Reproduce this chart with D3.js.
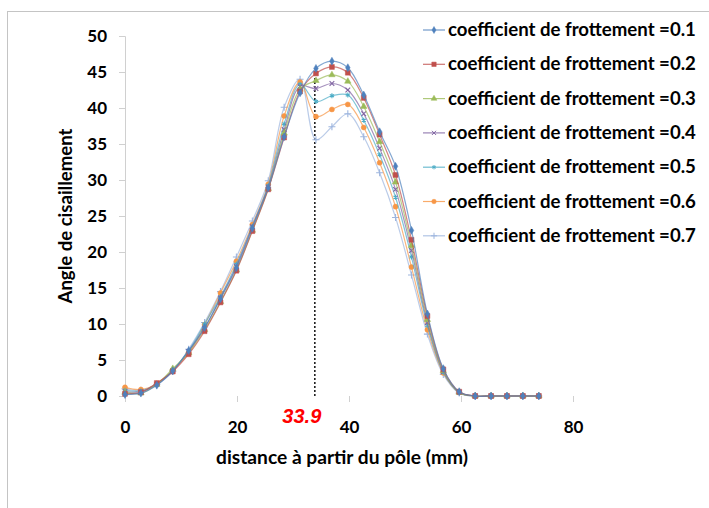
<!DOCTYPE html>
<html><head><meta charset="utf-8">
<script src="https://cdn.jsdelivr.net/npm/d3@7"></script>
<style>body{margin:0;background:#fff}text{font-family:Lato,"Liberation Sans",sans-serif;font-weight:bold}</style>
</head><body>
<svg id="c" width="709" height="508"></svg>
<script>
const distances = [0, 2.84, 5.68, 8.53, 11.37, 14.21, 17.05, 19.89, 22.74, 25.58, 28.42, 31.26, 34.1, 36.95, 39.79, 42.63, 45.47, 48.31, 51.16, 54.0, 56.84, 59.68, 62.53, 65.37, 68.21, 71.05, 73.9];
const seriesNames = ["coefficient de frottement =0.1","coefficient de frottement =0.2","coefficient de frottement =0.3","coefficient de frottement =0.4","coefficient de frottement =0.5","coefficient de frottement =0.6","coefficient de frottement =0.7"];
const mu01 = [0.2,0.4,1.5,3.5,6.3,9.5,13.5,17.8,23.3,28.9,36.0,42.1,45.5,46.5,45.6,41.8,36.7,31.9,23.0,11.4,3.8,0.6,0,0,0,0,0];
const mu02 = [0.3,0.5,1.8,3.4,5.8,9.0,13.0,17.4,22.9,28.7,35.9,42.3,44.8,45.7,44.9,41.4,36.3,30.7,21.7,11.1,3.7,0.6,0,0,0,0,0];
const mu03 = [0.5,0.4,1.6,3.8,6.0,9.2,13.1,17.5,23.0,28.8,36.5,42.6,43.8,44.6,43.7,40.2,35.3,29.7,20.9,10.6,3.5,0.5,0,0,0,0,0];
const mu04 = [0.6,0.6,1.6,3.5,6.2,9.4,13.6,18.0,23.5,29.0,37.0,43.0,42.7,43.4,42.5,39.2,34.4,28.7,20.2,10.2,3.4,0.5,0,0,0,0,0];
const mu05 = [0.8,0.7,1.7,3.6,6.3,10.0,13.8,18.3,23.6,29.2,37.8,43.3,40.9,41.7,41.8,38.3,33.5,27.6,19.3,9.8,3.3,0.5,0,0,0,0,0];
const mu06 = [1.2,0.9,1.7,3.6,6.0,9.9,14.3,18.7,23.8,29.4,38.9,43.6,38.8,39.8,40.5,37.3,32.4,26.3,17.9,9.2,3.2,0.5,0,0,0,0,0];
const mu07 = [1.0,0.8,1.6,3.4,6.5,10.2,14.5,19.3,24.3,29.9,40.1,44.0,35.6,37.4,39.2,36.0,31.0,24.8,16.8,8.6,3.0,0.4,0,0,0,0,0];
const seriesValues = [mu01, mu02, mu03, mu04, mu05, mu06, mu07];
const xTicks = [0, 20, 40, 60, 80];
const yTicks = [0, 5, 10, 15, 20, 25, 30, 35, 40, 45, 50];
const markedDistance = 33.9;
const markedLabel = "33.9";
const xTitle = "distance à partir du pôle (mm)";
const yTitle = "Angle de cisaillement";

const colors = ["#4F81BD","#C0504D","#9BBB59","#8064A2","#4BACC6","#F79646","#9DB5DE"];
const symbols = [d3.symbolDiamond, d3.symbolSquare, d3.symbolTriangle, d3.symbolX, d3.symbolAsterisk, d3.symbolCircle, d3.symbolPlus];
const symSize = [18, 24, 18, 16, 16, 20, 18];
const stroked = [false, false, false, true, true, false, true];

// scale a text's font size so that its rendered width matches a target width
function fitWidth(sel, target) {
  const node = sel.node();
  const fs = parseFloat(sel.attr("font-size"));
  const w = node.getComputedTextLength();
  if (w > 0) sel.attr("font-size", (fs * target / w).toFixed(2));
  return sel;
}

const svg = d3.select("#c");
svg.append("rect").attr("x",7.5).attr("y",11.5).attr("width",760).attr("height",600)
  .attr("fill","none").attr("stroke","#c4c4c4");

const x = d3.scaleLinear().domain([0,80]).range([125,573]);
const y = d3.scaleLinear().domain([0,50]).range([396,36]);

// y axis
const gy = svg.append("g").attr("transform","translate(125,0)")
  .call(d3.axisLeft(y).tickValues(yTicks).tickSize(6).tickPadding(12));
gy.select(".domain").attr("stroke","#d0d0d0");
gy.selectAll(".tick line").attr("stroke","#d0d0d0");
gy.selectAll(".tick text").attr("font-size",17).attr("fill","#000")
  .style("font-family","Lato, sans-serif").style("font-weight","bold");

// x axis (ticks only)
const gx = svg.append("g").attr("transform","translate(0,396)")
  .call(d3.axisBottom(x).tickValues(xTicks).tickSize(6).tickPadding(19));
gx.select(".domain").remove();
gx.selectAll(".tick line").attr("stroke","#d0d0d0");
gx.selectAll(".tick text").attr("font-size",17).attr("fill","#000")
  .style("font-family","Lato, sans-serif").style("font-weight","bold");

// titles
const xt = svg.append("text").attr("x",342).attr("y",464).attr("text-anchor","middle")
  .attr("font-size",18).text(xTitle);
fitWidth(xt, 252);
const yt = svg.append("text").attr("transform","translate(72,216) rotate(-90)").attr("text-anchor","middle")
  .attr("font-size",18).text(yTitle);
fitWidth(yt, 175);

// dotted marker line
svg.append("line").attr("x1",x(markedDistance)).attr("x2",x(markedDistance))
  .attr("y1",y(0)).attr("y2",y(44.3)).attr("stroke","#000").attr("stroke-width",1.4)
  .attr("stroke-dasharray","2,2");
svg.append("text").attr("x",x(markedDistance)-13).attr("y",423).attr("text-anchor","middle")
  .attr("font-size",20).attr("font-style","italic").attr("fill","#FF0000")
  .style("font-family","'Liberation Sans', Arial, sans-serif").text(markedLabel);

const line = d3.line().x((d,i)=>x(distances[i])).y(d=>y(d)).curve(d3.curveCatmullRom.alpha(0.5));

// draw in reverse so 0.1 is on top
for (let s = seriesValues.length-1; s >= 0; s--) {
  const g = svg.append("g");
  g.append("path").attr("d", line(seriesValues[s])).attr("fill","none")
    .attr("stroke",colors[s]).attr("stroke-width",1.2).attr("stroke-opacity",0.7);
  const sym = d3.symbol().type(symbols[s]).size(symSize[s]);
  g.selectAll("path.m").data(seriesValues[s]).join("path").attr("class","m")
    .attr("transform",(d,i)=>`translate(${x(distances[i])},${y(d)})`)
    .attr("d", sym())
    .attr("fill", stroked[s] ? "none" : colors[s])
    .attr("stroke", colors[s]).attr("stroke-width", stroked[s] ? 1.1 : 0.5);
}

// legend
const legY0 = 30, legDy = 34.3;
seriesNames.forEach((name, s) => {
  const ly = legY0 + s*legDy;
  const g = svg.append("g");
  g.append("line").attr("x1",423).attr("x2",445).attr("y1",ly).attr("y2",ly)
    .attr("stroke",colors[s]).attr("stroke-width",1.2).attr("stroke-opacity",0.8);
  g.append("path").attr("transform",`translate(434,${ly})`)
    .attr("d", d3.symbol().type(symbols[s]).size(symSize[s]*0.8)())
    .attr("fill", stroked[s] ? "none" : colors[s])
    .attr("stroke", colors[s]).attr("stroke-width", stroked[s] ? 1 : 0.5);
  const t = g.append("text").attr("x",448).attr("y",ly+6).attr("font-size",16).attr("fill","#000").text(name);
  fitWidth(t, 248);
});
</script>
</body></html>
